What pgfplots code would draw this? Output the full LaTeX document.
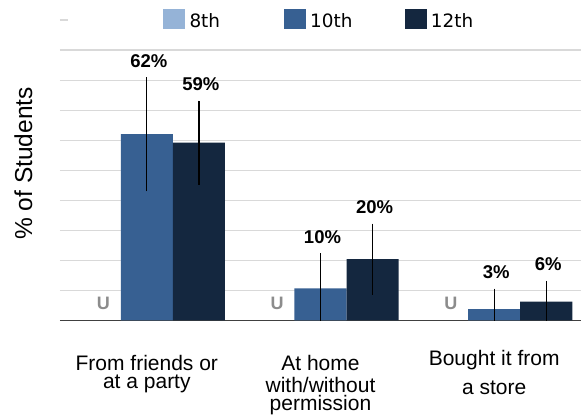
\documentclass[border=0pt]{standalone}
\usepackage{pgfplots}
\pgfplotsset{compat=1.18}
\usepackage{pgfplotstable}
\usepackage{fontspec}
\setmainfont{Liberation Sans}
\newfontfamily\legfont{DejaVu Sans}
\definecolor{c8}{HTML}{95B3D7}
\definecolor{c10}{HTML}{376092}
\definecolor{c12}{HTML}{14273F}
\definecolor{gridc}{HTML}{D9D9D9}
\definecolor{axc}{HTML}{404040}
\definecolor{uc}{HTML}{8C8C8C}

\pgfplotstableread{
x y err
0 62 19
1 10.7 11.6
2 3.8 6.8
}\tenth
\pgfplotstableread{
x y err
0.3 59.2 14
1.3 20.4 11.8
2.3 6.3 6.9
}\twelfth
\pgfplotstableread{
x y lab
0 81 62
1 22.3 10
2 10.6 3
0.3 73.2 59
1.3 32.2 20
2.3 13.2 6
}\labtab
\pgfplotstableread{
x y lab
-0.25 3.7 U
0.75 3.7 U
1.75 3.7 U
}\utab

\pgfplotsset{
  sqbar/.style={ybar, bar width=0.3, bar shift=0pt, draw=none,
    legend image code/.code={\fill[##1] (0pt,-1.7pt) rectangle (22pt,18pt);}},
}

\begin{document}
\begin{tikzpicture}
\begin{axis}[name=ax, scale only axis, width=521pt, height=300.5pt,
  xmin=-0.5, xmax=2.5, ymin=0, ymax=100,
  axis x line*=bottom, axis y line*=left,
  y axis line style={draw=none},
  x axis line style={axc, line width=1.2pt},
  major tick length=0pt,
  xtick={0,1,2},
  xticklabels={{\rule{0pt}{20.5pt}From friends or\\at a party},
               {\rule{0pt}{20.5pt}At home\\[4.5pt]with/without\\permission},
               {Bought it from\\[10.5pt]a store}},
  xticklabel style={anchor=north, align=center, inner sep=0pt, yshift=-29.5pt,
    font=\fontsize{21}{17.8}\selectfont},
  ytick={10,20,...,100}, yticklabels={},
  ymajorgrids, grid style={gridc, line width=1.1pt},
  ylabel={\% of Students},
  every axis y label/.style={at={(axis description cs:-0.0537,0.5225)}, rotate=90, anchor=base,
    font=\fontsize{24.5}{29}\selectfont},
  legend columns=3,
  legend style={at={(axis description cs:0.01536,1)}, anchor=west, yshift=0.85pt,
    draw=none, fill=white, inner xsep=95pt, inner ysep=1.5pt,
    font=\legfont\fontsize{18.4}{22}\selectfont,
    nodes={inner sep=0pt},
    cells={anchor=base west},
    /tikz/every odd column/.append style={column sep=4.3pt},
    /tikz/every even column/.append style={column sep=34.4pt}},
]
\addlegendimage{sqbar, fill=c8}
\addlegendentry{\makebox[60pt][l]{8th}}
\addplot[sqbar, fill=c10, error bars/.cd, y dir=both, y explicit, error mark=none,
  error bar style={black, line width=1.2pt}] table[x=x, y=y, y error=err] {\tenth};
\addlegendentry{\makebox[60pt][l]{10th}}
\addplot[sqbar, fill=c12, error bars/.cd, y dir=both, y explicit, error mark=none,
  error bar style={black, line width=1.2pt}] table[x=x, y=y, y error=err] {\twelfth};
\addlegendentry{\makebox[60pt][l]{12th}}
\addplot[forget plot, draw=none, mark=none, point meta=explicit symbolic,
  nodes near coords={\pgfplotspointmeta\%},
  every node near coord/.append style={inner sep=0pt, yshift=9.5pt, xshift=2pt,
    font=\bfseries\fontsize{18.5}{20}\selectfont, text=black}]
  table[x=x, y=y, meta=lab] {\labtab};
\addplot[forget plot, draw=none, mark=none, point meta=explicit symbolic,
  nodes near coords={\pgfplotspointmeta},
  every node near coord/.append style={inner sep=0pt,
    font=\bfseries\fontsize{18}{20}\selectfont, text=uc}]
  table[x=x, y=y, meta=lab] {\utab};
\end{axis}
\pgfresetboundingbox
\path[use as bounding box] ([xshift=-60pt,yshift=-95.5pt]ax.south west) rectangle ([yshift=20pt]ax.north east);
\end{tikzpicture}
\end{document}
